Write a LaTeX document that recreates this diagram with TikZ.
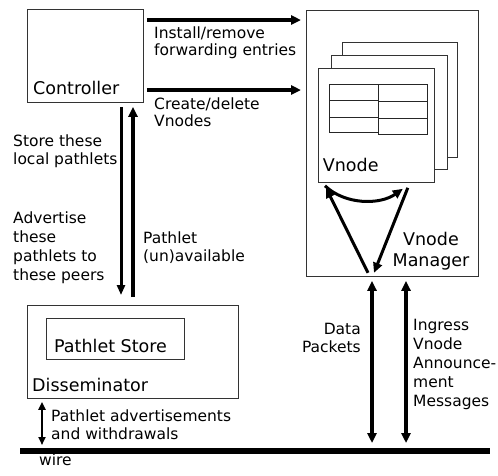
\documentclass[tikz,border=0pt]{standalone}
\usepackage{fontspec}
\setmainfont{DejaVu Sans}
\usetikzlibrary{arrows.meta,calc}
\begin{document}
\begin{tikzpicture}[x=1pt,y=-1pt,
  box/.style={draw=black!80,line width=0.8pt,fill=white,anchor=north west,inner sep=0pt},
  boxlabel/.style={font=\fontsize{17.5}{21}\selectfont,inner sep=0pt,anchor=base west},
  lbl/.style={font=\fontsize{15.5}{#1}\selectfont,inner sep=0pt,anchor=base west,align=left},
  lbl/.default=19,
  flow/.style={line width=3.6pt,-{Triangle[length=10pt,width=9pt]}},
  twoway/.style={line width=3.6pt,{Triangle[length=10pt,width=9pt]}-{Triangle[length=10pt,width=9pt]}},
  inner/.style={line width=3pt,-{Triangle[length=10pt,width=9pt]}},
  cell/.style={draw=black!85,line width=1pt}
]
\useasboundingbox (0,0) rectangle (498,475);

% the wire
\coordinate (wireL) at (20,451);
\coordinate (wireR) at (490,451);
\draw[line width=6pt] (wireL) -- (wireR);
\node[lbl] (wirelabel) at (39,465) {wire};

% controller
\node[box,minimum width=116pt,minimum height=93pt] (controller) at (27,9) {};
\node[boxlabel] (controllerlabel) at (33,94.5) {Controller};

% vnode manager with its stack of vnodes
\node[box,minimum width=172pt,minimum height=266.5pt] (manager) at (306,9.5) {};
\node[box,minimum width=115pt,minimum height=115pt] (card3) at (342,42) {};
\node[box,minimum width=116pt,minimum height=114pt] (card2) at (331,55) {};
\node[box,minimum width=116pt,minimum height=114pt] (vnode) at (318,68) {};
\node[boxlabel] (vnodelabel) at (322.7,171.7) {Vnode};
% multi-line labels are placed by the baseline of their last line
\node[font=\fontsize{17.5}{21}\selectfont,inner sep=0pt,anchor=base,align=center] (managerlabel) at (431,266) {Vnode\\Manager};

% forwarding table inside the vnode
\draw[cell] (329,84.3) rectangle (378,100.7);
\draw[cell] (329,100.7) rectangle (378,117.7);
\draw[cell] (329,117.7) rectangle (378,132.7);
\draw[cell] (378,84.3) rectangle (427,101.7);
\draw[cell] (378,101.7) rectangle (427,118.3);
\draw[cell] (378,118.3) rectangle (427,134);

% disseminator
\node[box,minimum width=211pt,minimum height=93pt] (dissem) at (27,305) {};
\node[box,minimum width=138pt,minimum height=41pt] (store) at (46,318) {};
\node[boxlabel] (storelabel) at (54,352) {Pathlet Store};
\node[boxlabel] (dissemlabel) at (32,391.7) {Disseminator};

% controller to vnode manager
\draw[flow] ($(controller.north east)+(3,11)$) -- ($(manager.north west)+(-5,10.5)$);
\draw[flow] ($(controller.north east)+(3,81)$) -- ($(manager.north west)+(-5,80.5)$);
\node[lbl=17] (installlabel) at (154,55) {Install/remove\\forwarding entries};
\node[lbl=16.5] (createlabel) at (154,126) {Create/delete\\Vnodes};

% controller and disseminator
\draw[line width=3pt,-{Triangle[length=10pt,width=8pt]}] ($(controller.south west)+(94,4)$) -- ($(dissem.north west)+(94,-10)$);
\draw[flow] ($(dissem.north west)+(106,-8)$) -- ($(controller.south west)+(106,4)$);
\node[lbl=18] (storeto) at (13,164.5) {Store these\\local pathlets};
\node[lbl=19] (advertise) at (13,280) {Advertise\\these\\pathlets to\\these peers};
\node[lbl=18.5] (avail) at (143,261.5) {Pathlet\\(un)available};

% disseminator and wire
\draw[line width=2.6pt,{Triangle[length=8pt,width=7pt]}-{Triangle[length=8pt,width=7pt]}] ($(dissem.south west)+(15,3)$) -- ($(wireL)+(22,-6)$);
\node[lbl=18.3] (advlabel) at (51,439.8) {Pathlet advertisements\\and withdrawals};

% vnode manager and wire
\draw[twoway] ($(manager.south west)+(66,4)$) -- ($(wireL)+(352,-8)$);
\draw[twoway] ($(manager.south west)+(100,4)$) -- ($(wireL)+(386,-8)$);
\node[font=\fontsize{15.5}{18.3}\selectfont,inner sep=0pt,anchor=base east,align=right] (datalabel) at (361,352.3) {Data\\Packets};
\node[lbl=19.2] (ingresslabel) at (413,406.8) {Ingress\\Vnode\\Announce-\\ment\\Messages};

% traffic between the manager and the vnodes
\draw[inner] ($(manager.south west)+(62,-4)$) -- ($(vnode.south west)+(8,5)$);
\draw[inner] ($(vnode.south east)+(-27,5)$) -- ($(manager.south west)+(68,-4)$);
\draw[inner] ($(vnode.south west)+(7,3)$) .. controls (345,205) and (380,205) .. ($(vnode.south east)+(-32,6)$);
\end{tikzpicture}
\end{document}
